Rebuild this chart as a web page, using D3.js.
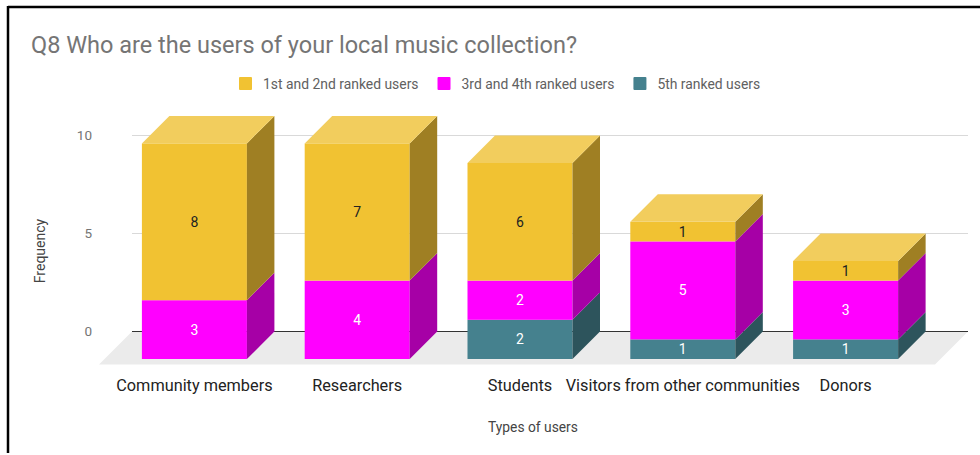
<!DOCTYPE html>
<html>
<head>
<meta charset="utf-8">
<script src="https://cdn.jsdelivr.net/npm/d3@7/dist/d3.min.js"></script>
<style>
  html, body { margin: 0; padding: 0; background: #fff; }
  svg { display: block; font-family: Roboto, "Noto Sans", Arial, sans-serif; }
</style>
</head>
<body>
<svg id="chart" width="980" height="455"></svg>
<script>
// Survey answers, Q8: who uses the local music collection
const categories = ["Community members", "Researchers", "Students", "Visitors from other communities", "Donors"];
const seriesNames = ["5th ranked users", "3rd and 4th ranked users", "1st and 2nd ranked users"];
const rank5 = [0, 0, 2, 1, 1];
const rank34 = [3, 4, 2, 5, 3];
const rank12 = [8, 7, 6, 1, 1];
const legendOrder = ["1st and 2nd ranked users", "3rd and 4th ranked users", "5th ranked users"];
const yTicks = [0, 5, 10];

const palette = {
  "1st and 2nd ranked users": { front: "#f1c232", side: "#9f7f23", top: "#f2cd5d", text: "#222222" },
  "3rd and 4th ranked users": { front: "#ff00ff", side: "#a600a6", top: "#ff55ff", text: "#ffffff" },
  "5th ranked users":         { front: "#45818e", side: "#2d545c", top: "#6a9aa5", text: "#ffffff" }
};

const svg = d3.select("#chart");
const depth = 27.5;          // 3D offset of the back plane (px, right and up)
const backLeft = 132, backRight = 968;

// Value scale lives on the back plane; front faces are shifted by depth
const y = d3.scaleLinear().domain([0, 10]).range([331.5, 135.5]);
const yFront = v => y(v) + depth;

// Category scale on the front plane
const x = d3.scaleBand().domain(categories)
  .range([113, 927]).paddingInner(0.355).paddingOuter(0.1775);

// Frame lines (top and left)
svg.append("line").attr("x1", 8).attr("x2", 980).attr("y1", 7).attr("y2", 7)
  .attr("stroke", "#000").attr("stroke-width", 2.5);
svg.append("line").attr("x1", 8).attr("x2", 8).attr("y1", 6).attr("y2", 453)
  .attr("stroke", "#000").attr("stroke-width", 2.5);

// Title
svg.append("text").attr("x", 31).attr("y", 53)
  .attr("font-size", 23.5).attr("fill", "#757575")
  .text("Q8 Who are the users of your local music collection?");

// Legend
let lx = 239;
const legend = svg.append("g");
legendOrder.forEach(name => {
  legend.append("rect").attr("x", lx).attr("y", 77).attr("width", 13).attr("height", 13)
    .attr("rx", 1).attr("fill", palette[name].front);
  const t = legend.append("text").attr("x", lx + 24).attr("y", 89)
    .attr("font-size", 13.9).attr("fill", "#616161").text(name);
  lx += 24 + t.node().getComputedTextLength() + 19;
});

// Floor
const floorDepth = 33;
svg.append("polygon")
  .attr("points", [
    [backLeft, y(0)], [backRight, y(0)],
    [backRight - floorDepth, y(0) + floorDepth], [backLeft - floorDepth, y(0) + floorDepth]
  ].map(p => p.join(",")).join(" "))
  .attr("fill", "#ebebeb");

// Gridlines on the back plane
svg.append("g").selectAll("line").data(yTicks.filter(d => d !== 0)).join("line")
  .attr("x1", backLeft).attr("x2", backRight)
  .attr("y1", d => y(d)).attr("y2", d => y(d))
  .attr("stroke", "#d9d9d9").attr("stroke-width", 1);
svg.append("line").attr("x1", backLeft).attr("x2", backRight)
  .attr("y1", y(0)).attr("y2", y(0)).attr("stroke", "#333").attr("stroke-width", 1.2);

// Y axis tick labels
const yAxis = d3.axisLeft(y).tickValues(yTicks).tickSize(0).tickPadding(0);
const yg = svg.append("g").attr("transform", "translate(92,0)").call(yAxis);
yg.select(".domain").remove();
yg.selectAll("text").attr("font-size", 13.5).attr("fill", "#757575")
  .attr("font-family", "Roboto, 'Noto Sans', Arial, sans-serif");

// Stacked 3D bars
const table = categories.map((c, i) => ({
  category: c,
  "5th ranked users": rank5[i],
  "3rd and 4th ranked users": rank34[i],
  "1st and 2nd ranked users": rank12[i]
}));
const stacked = d3.stack().keys(seriesNames)(table);

const bars = svg.append("g");
const labels = svg.append("g");
const w = x.bandwidth();
stacked.forEach((layer, li) => {
  const name = layer.key;
  const col = palette[name];
  layer.forEach((seg, i) => {
    const v = seg[1] - seg[0];
    if (v <= 0) return;
    const x0 = x(categories[i]), x1 = x0 + w;
    const yt = yFront(seg[1]), yb = yFront(seg[0]);
    // front face
    bars.append("rect").attr("x", x0).attr("y", yt).attr("width", w).attr("height", yb - yt)
      .attr("fill", col.front);
    // right side face
    bars.append("polygon").attr("points", [
      [x1, yt], [x1 + depth, yt - depth], [x1 + depth, yb - depth], [x1, yb]
    ].map(p => p.join(",")).join(" ")).attr("fill", col.side);
    // top face only on the highest segment of each bar
    const total = stacked[stacked.length - 1][i][1];
    if (seg[1] === total) {
      bars.append("polygon").attr("points", [
        [x0, yt], [x0 + depth, yt - depth], [x1 + depth, yt - depth], [x1, yt]
      ].map(p => p.join(",")).join(" ")).attr("fill", col.top);
    }
    labels.append("text").attr("x", x0 + w / 2).attr("y", (yt + yb) / 2)
      .attr("text-anchor", "middle").attr("dominant-baseline", "central")
      .attr("font-size", 14).attr("fill", col.text).text(v);
  });
});

// Category labels
svg.append("g").selectAll("text").data(categories).join("text")
  .attr("x", d => x(d) + w / 2).attr("y", 391)
  .attr("text-anchor", "middle").attr("font-size", 16.3).attr("fill", "#222")
  .text(d => d);

// Axis titles
svg.append("text").attr("x", 533).attr("y", 432).attr("text-anchor", "middle")
  .attr("font-size", 13.8).attr("fill", "#444").text("Types of users");
svg.append("text").attr("transform", "translate(45,251) rotate(-90)")
  .attr("text-anchor", "middle").attr("font-size", 14).attr("fill", "#444").text("Frequency");
</script>
</body>
</html>
